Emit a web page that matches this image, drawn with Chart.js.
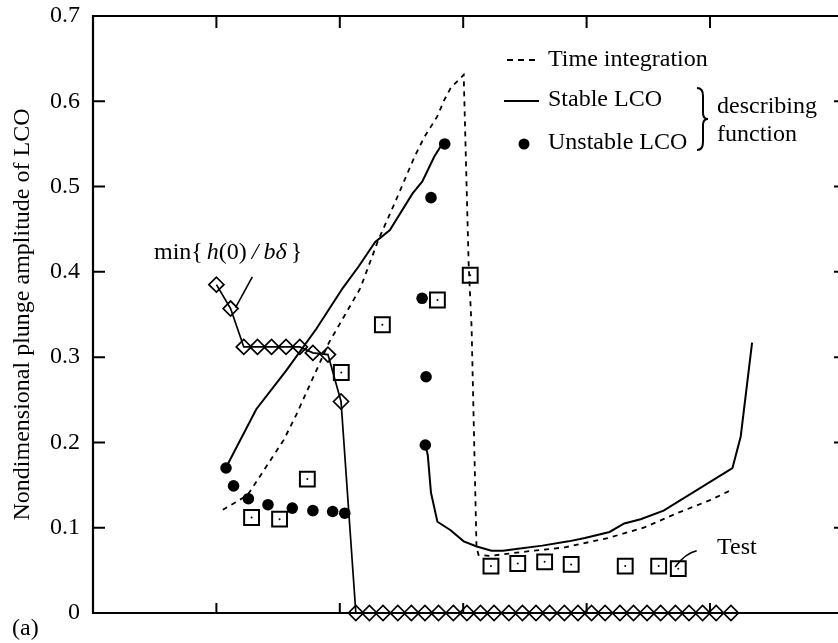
<!DOCTYPE html>
<html>
<head>
    <title>LCO amplitude</title>
    <script src="https://cdn.jsdelivr.net/npm/chart.js"></script>
    <style>
        body { margin: 0; background: #fff; }
        canvas { display: block; }
    </style>
</head>
<body>
    <canvas id="myChart" width="838" height="643"></canvas>

    <script>
        // values (x in tick-mark units, y = plunge amplitude)
        var yTickLabels = ["0", "0.1", "0.2", "0.3", "0.4", "0.5", "0.6", "0.7"];
        var xTickMarks = [1, 2, 3, 4, 5];

        var timeX = [1.052, 1.251, 1.347, 1.546, 1.649, 1.912, 2.167, 2.311, 2.446, 2.606, 2.685, 2.789, 2.845, 2.900, 3.004,
                     3.044, 3.068, 3.108, 3.124, 3.219, 3.506, 3.825, 4.175, 4.462, 4.733, 4.996, 5.155];
        var timeY = [0.121, 0.138, 0.159, 0.203, 0.233, 0.317, 0.381, 0.437, 0.481, 0.535, 0.558, 0.582, 0.601, 0.616, 0.631,
                     0.410, 0.335, 0.077, 0.068, 0.067, 0.072, 0.077, 0.088, 0.100, 0.117, 0.132, 0.143];

        var stableLeftX = [1.076, 1.323, 1.570, 1.809, 2.024, 2.151, 2.287, 2.406, 2.590, 2.669, 2.765, 2.821, 2.853];
        var stableLeftY = [0.170, 0.239, 0.285, 0.333, 0.381, 0.406, 0.435, 0.449, 0.492, 0.506, 0.535, 0.548, 0.550];

        var stableRightX = [2.693, 2.713, 2.739, 2.791, 2.898, 3.004, 3.110, 3.229, 3.323, 3.429, 3.641, 3.854, 3.986, 4.186,
                            4.305, 4.438, 4.624, 5.182, 5.249, 5.341];
        var stableRightY = [0.198, 0.185, 0.141, 0.107, 0.097, 0.084, 0.078, 0.073, 0.073, 0.075, 0.079, 0.084, 0.088, 0.095,
                            0.105, 0.110, 0.120, 0.170, 0.207, 0.317];

        var unstableX = [1.078, 1.139, 1.259, 1.418, 1.615, 1.782, 1.942, 2.040, 2.667, 2.699, 2.693, 2.739, 2.850];
        var unstableY = [0.170, 0.149, 0.134, 0.127, 0.123, 0.120, 0.119, 0.117, 0.369, 0.277, 0.197, 0.487, 0.550];

        var testX = [1.285, 1.512, 1.737, 2.012, 2.345, 2.791, 3.057, 3.225, 3.442, 3.660, 3.875, 4.313, 4.584, 4.743];
        var testY = [0.112, 0.110, 0.157, 0.282, 0.338, 0.367, 0.396, 0.055, 0.058, 0.060, 0.057, 0.055, 0.055, 0.052];

        var minX = [1.000, 1.115, 1.222, 1.333, 1.447, 1.564, 1.676, 1.782, 1.904, 2.010,
                    2.13, 2.24, 2.35, 2.47, 2.58, 2.69, 2.80, 2.92, 3.03, 3.14, 3.25, 3.37, 3.48, 3.59,
                    3.70, 3.82, 3.93, 4.04, 4.15, 4.27, 4.38, 4.49, 4.60, 4.72, 4.83, 4.94, 5.05, 5.17];
        var minY = [0.385, 0.357, 0.312, 0.312, 0.312, 0.312, 0.312, 0.305, 0.303, 0.248,
                    0, 0, 0, 0, 0, 0, 0, 0, 0, 0, 0, 0, 0, 0,
                    0, 0, 0, 0, 0, 0, 0, 0, 0, 0, 0, 0, 0, 0];

        function pts(xs, ys) {
            return xs.map((x, i) => ({ x: x, y: ys[i] }));
        }

        var serif = "'Liberation Serif', 'DejaVu Serif', serif";
        Chart.defaults.font.family = serif;
        Chart.defaults.color = "#000";

        // frame with inward ticks, drawn under the marks
        var framePlugin = {
            id: "frame",
            beforeDatasetsDraw(chart) {
                var ctx = chart.ctx, a = chart.chartArea, xs = chart.scales.x, ys = chart.scales.y;
                ctx.save();
                ctx.strokeStyle = "#000";
                ctx.lineWidth = 2.2;
                ctx.beginPath();
                ctx.moveTo(chart.width, a.top);
                ctx.lineTo(a.left, a.top);
                ctx.lineTo(a.left, a.bottom);
                ctx.lineTo(chart.width, a.bottom);
                ctx.stroke();
                ctx.lineWidth = 2;
                ctx.beginPath();
                xTickMarks.forEach(v => {
                    var px = xs.getPixelForValue(v);
                    ctx.moveTo(px, a.top); ctx.lineTo(px, a.top + 12);
                    ctx.moveTo(px, a.bottom); ctx.lineTo(px, a.bottom - 10);
                });
                ys.ticks.forEach(t => {
                    var py = ys.getPixelForValue(t.value);
                    ctx.moveTo(a.left, py); ctx.lineTo(a.left + 12, py);
                    ctx.moveTo(chart.width, py); ctx.lineTo(chart.width - 4, py);
                });
                ctx.stroke();
                ctx.restore();
            }
        };

        // legend, labels and leader lines
        var notesPlugin = {
            id: "notes",
            afterDraw(chart) {
                var ctx = chart.ctx, xs = chart.scales.x, ys = chart.scales.y;
                ctx.save();
                ctx.fillStyle = "#000";
                ctx.strokeStyle = "#000";
                ctx.textBaseline = "alphabetic";
                ctx.textAlign = "left";
                var reg = "24px " + serif, ita = "italic 24px " + serif;

                // legend
                ctx.lineWidth = 1.8;
                ctx.setLineDash([6, 5]);
                ctx.beginPath(); ctx.moveTo(507, 60); ctx.lineTo(540, 60); ctx.stroke();
                ctx.setLineDash([]);
                ctx.lineWidth = 2.2;
                ctx.beginPath(); ctx.moveTo(504, 101); ctx.lineTo(539, 101); ctx.stroke();
                ctx.beginPath(); ctx.arc(524, 144, 5.5, 0, Math.PI * 2); ctx.fill();
                ctx.font = reg;
                ctx.fillText("Time integration", 548, 66);
                ctx.fillText("Stable LCO", 548, 106);
                ctx.fillText("Unstable LCO", 548, 149);
                ctx.fillText("describing", 717, 113);
                ctx.fillText("function", 717, 141);

                // brace
                ctx.lineWidth = 2;
                ctx.beginPath();
                ctx.moveTo(697, 88);
                ctx.quadraticCurveTo(703, 88, 703, 96);
                ctx.lineTo(703, 113);
                ctx.quadraticCurveTo(703, 119, 708, 119);
                ctx.quadraticCurveTo(703, 119, 703, 125);
                ctx.lineTo(703, 142);
                ctx.quadraticCurveTo(703, 150, 697, 150);
                ctx.stroke();

                // min{h(0)/b delta}
                var parts = [["min{", reg, 0], ["h", ita, 4], ["(0)", reg, 0], ["/", ita, 5], ["b", ita, 5], ["δ", ita, 0], ["}", reg, 4]];
                var tx = 154;
                parts.forEach(p => {
                    ctx.font = p[1];
                    tx += p[2];
                    ctx.fillText(p[0], tx, 259);
                    tx += ctx.measureText(p[0]).width;
                });
                ctx.font = reg;
                ctx.fillText("Test", 717, 554);
                ctx.fillText("(a)", 12, 635);

                // leader lines
                ctx.lineWidth = 1.6;
                ctx.beginPath();
                ctx.moveTo(xs.getPixelForValue(1.291), ys.getPixelForValue(0.394));
                ctx.lineTo(xs.getPixelForValue(1.155), ys.getPixelForValue(0.358));
                ctx.stroke();
                ctx.beginPath();
                ctx.moveTo(xs.getPixelForValue(4.892), ys.getPixelForValue(0.073));
                ctx.quadraticCurveTo(xs.getPixelForValue(4.80), ys.getPixelForValue(0.070),
                                     xs.getPixelForValue(4.717), ys.getPixelForValue(0.054));
                ctx.stroke();
                ctx.restore();
            }
        };

        var whiteBg = {
            id: "whiteBg",
            beforeDraw(chart) {
                var ctx = chart.ctx;
                ctx.save();
                ctx.fillStyle = "#fff";
                ctx.fillRect(0, 0, chart.width, chart.height);
                ctx.restore();
            }
        };

        var lineBase = { showLine: true, pointRadius: 0, borderColor: "#000", fill: false, tension: 0, clip: false };

        var ctx = document.getElementById("myChart").getContext("2d");
        new Chart(ctx, {
            type: "scatter",
            data: {
                datasets: [
                    Object.assign({}, lineBase, { label: "Time integration", data: pts(timeX, timeY), borderWidth: 1.8, borderDash: [5, 5] }),
                    Object.assign({}, lineBase, { label: "Stable LCO", data: pts(stableLeftX, stableLeftY), borderWidth: 2 }),
                    Object.assign({}, lineBase, { label: "Stable LCO 2", data: pts(stableRightX, stableRightY), borderWidth: 2 }),
                    Object.assign({}, lineBase, {
                        label: "min", data: pts(minX, minY), borderWidth: 1.7,
                        pointStyle: "rectRot", pointRadius: 7.5, pointBorderWidth: 1.7,
                        pointBorderColor: "#000", pointBackgroundColor: "rgba(0,0,0,0)"
                    }),
                    {
                        label: "Unstable LCO", data: pts(unstableX, unstableY), clip: false,
                        pointRadius: 5.8, pointBackgroundColor: "#000", pointBorderColor: "#000", pointBorderWidth: 0
                    },
                    {
                        label: "Test", data: pts(testX, testY), clip: false,
                        pointStyle: "rect", pointRadius: 10.5, pointBorderWidth: 2,
                        pointBorderColor: "#000", pointBackgroundColor: "rgba(0,0,0,0)"
                    },
                    {
                        label: "Test centre", data: pts(testX, testY), clip: false,
                        pointRadius: 1, pointBackgroundColor: "#000", pointBorderWidth: 0
                    }
                ]
            },
            options: {
                responsive: false,
                animation: false,
                events: [],
                layout: { padding: { top: 16, bottom: 30, left: 0, right: 0 } },
                plugins: {
                    legend: { display: false },
                    tooltip: { enabled: false }
                },
                scales: {
                    x: {
                        type: "linear", min: 0, max: 5.936, display: false
                    },
                    y: {
                        min: 0, max: 0.7,
                        grid: { display: false, drawTicks: false },
                        border: { display: false },
                        ticks: {
                            stepSize: 0.1, padding: 13,
                            font: { size: 24, family: serif }, color: "#000",
                            callback: (v, i) => yTickLabels[i]
                        },
                        title: {
                            display: true, text: "Nondimensional plunge amplitude of LCO",
                            font: { size: 24, family: serif }, color: "#000",
                            padding: { top: 8, bottom: 0 }
                        },
                        afterFit: s => {
                            s.width = 93;
                            s.paddingTop = 0;
                            s.paddingBottom = 0;
                        }
                    }
                }
            },
            plugins: [whiteBg, framePlugin, notesPlugin]
        });
    </script>
</body>
</html>
